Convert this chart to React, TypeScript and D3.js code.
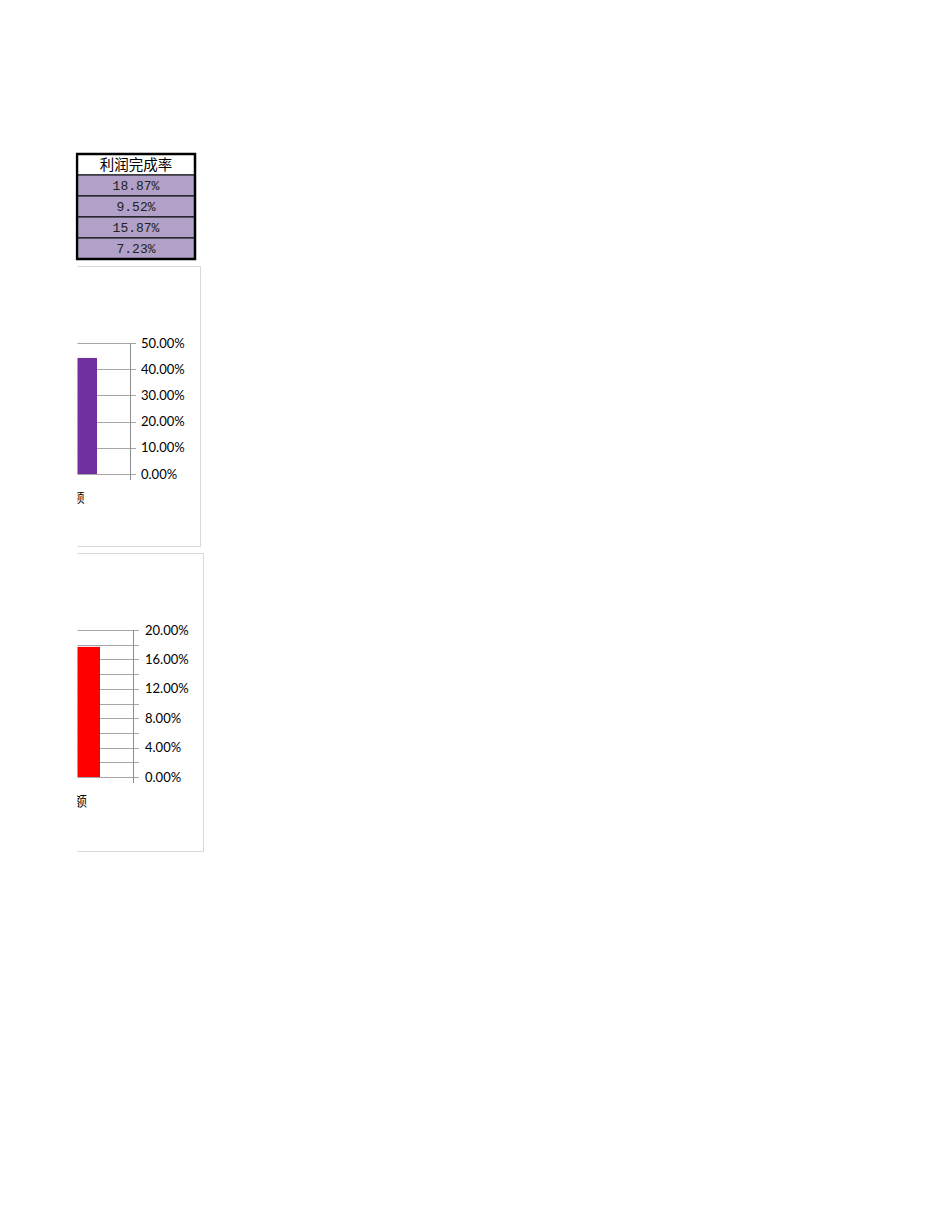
import React from "react";
import * as d3 from "d3";

const tableHeader = "利润完成率";
const completionRates = ["18.87%", "9.52%", "15.87%", "7.23%"];

const chart1Categories = ["完成额"];
const chart1Values = [0.443];
const chart1Domain = [0, 0.5];
const chart1TickStep = 0.1;

const chart2Categories = ["完成额"];
const chart2Values = [0.177];
const chart2Domain = [0, 0.2];
const chart2LabelStep = 0.04;
const chart2GridStep = 0.02;

const fmtPct = d3.format(".2%");

type ChartProps = {
  box: { x: number; y: number; w: number; h: number };
  plot: { left: number; right: number; top: number; bottom: number };
  categories: string[];
  values: number[];
  domain: number[];
  gridStep: number;
  labelStep: number;
  color: string;
  labelDx: number;
  labelY: number;
  catFont: number;
  tickLen: number;
  labelGap: number;
  clipId: string;
};

function BarChart(p: ChartProps) {
  const x = d3
    .scaleBand<string>()
    .domain(p.categories)
    .range([p.plot.left, p.plot.right])
    .paddingInner(0.6)
    .paddingOuter(0.3);
  const y = d3.scaleLinear().domain(p.domain).range([p.plot.bottom, p.plot.top]);
  const nGrid = Math.round((p.domain[1] - p.domain[0]) / p.gridStep);
  const grid = d3.range(nGrid + 1).map((i) => p.domain[0] + i * p.gridStep);
  const ratio = Math.round(p.labelStep / p.gridStep);
  const axisX = p.plot.right;
  const gridColor = "#a6a6a6";
  return (
    <g>
      <defs>
        <clipPath id={p.clipId}>
          <rect x={77.5} y={0} width={900} height={1230} />
        </clipPath>
      </defs>
      <g clipPath={`url(#${p.clipId})`}>
        <rect
          x={p.box.x + 0.5}
          y={p.box.y + 0.5}
          width={p.box.w}
          height={p.box.h}
          fill="#ffffff"
          stroke="#d9d9d9"
          strokeWidth={1}
        />
        {grid.map((v, i) => (
          <line
            key={"g" + i}
            x1={p.plot.left}
            x2={axisX + p.tickLen}
            y1={Math.round(y(v)) + 0.5}
            y2={Math.round(y(v)) + 0.5}
            stroke={gridColor}
            strokeWidth={1}
          />
        ))}
        {p.categories.map((c, i) => (
          <rect
            key={"b" + i}
            x={x(c)!}
            y={y(p.values[i])}
            width={x.bandwidth()}
            height={y(p.domain[0]) - y(p.values[i])}
            fill={p.color}
          />
        ))}
        <line
          x1={axisX + 0.5}
          x2={axisX + 0.5}
          y1={y(p.domain[1])}
          y2={y(p.domain[0]) + 6}
          stroke="#8c8c8c"
          strokeWidth={1}
        />
        {grid
          .filter((_, i) => i % ratio === 0)
          .map((v, i) => (
            <text
              key={"t" + i}
              x={axisX + p.labelGap}
              y={y(v)}
              dy="0.36em"
              fontFamily="Lato, 'Open Sans', sans-serif"
              fontSize={13}
              fill="#000000"
            >
              {fmtPct(v)}
            </text>
          ))}
        {p.categories.map((c, i) => (
          <text
            key={"c" + i}
            x={x(c)! + x.bandwidth() / 2 + p.labelDx}
            y={p.labelY}
            textAnchor="end"
            fontFamily="'Noto Sans CJK SC', sans-serif"
            fontSize={p.catFont}
            fill="#000000"
          >
            {c}
          </text>
        ))}
      </g>
    </g>
  );
}

export default function App() {
  const tX = 77;
  const tW = 118;
  const tTop = 154;
  const rowH = 21;
  const rows = [tableHeader, ...completionRates];
  const rowY = d3.scaleLinear().domain([0, rows.length]).range([tTop, tTop + rowH * rows.length]);
  return (
    <svg
      width={950}
      height={1230}
      style={{ position: "absolute", left: 0, top: 0, display: "block" }}
    >
      <rect x={0} y={0} width={950} height={1230} fill="#ffffff" />
      <defs>
        <clipPath id="tclip">
          <rect x={75.5} y={0} width={900} height={1230} />
        </clipPath>
      </defs>
      <g clipPath="url(#tclip)">
        {rows.map((r, i) => (
          <g key={i}>
            <rect
              x={tX}
              y={rowY(i)}
              width={tW}
              height={rowH}
              fill={i === 0 ? "#ffffff" : "#b1a0c7"}
              stroke="#000000"
              strokeWidth={1}
            />
            <text
              x={tX + tW / 2}
              y={rowY(i) + rowH / 2}
              dy="0.37em"
              textAnchor="middle"
              fontFamily={i === 0 ? "'Noto Sans CJK SC', serif" : "'Liberation Mono', monospace"}
              fontSize={i === 0 ? 14.5 : 13}
              fill={i === 0 ? "#000000" : "#222222"}
            >
              {r}
            </text>
          </g>
        ))}
        <rect
          x={tX}
          y={tTop}
          width={tW}
          height={rowH * rows.length}
          fill="none"
          stroke="#000000"
          strokeWidth={2.5}
        />
      </g>
      <BarChart
        box={{ x: 40, y: 266, w: 160, h: 280 }}
        plot={{ left: 20, right: 130, top: 343, bottom: 474 }}
        categories={chart1Categories}
        values={chart1Values}
        domain={chart1Domain}
        gridStep={chart1TickStep}
        labelStep={chart1TickStep}
        color="#7030a0"
        labelDx={9.5}
        labelY={502}
        catFont={13}
        tickLen={6}
        labelGap={11}
        clipId="c1"
      />
      <BarChart
        box={{ x: 40, y: 553, w: 163, h: 298 }}
        plot={{ left: 23, right: 133, top: 630, bottom: 777 }}
        categories={chart2Categories}
        values={chart2Values}
        domain={chart2Domain}
        gridStep={chart2GridStep}
        labelStep={chart2LabelStep}
        color="#ff0000"
        labelDx={9}
        labelY={806}
        catFont={14}
        tickLen={6}
        labelGap={12}
        clipId="c2"
      />
    </svg>
  );
}
